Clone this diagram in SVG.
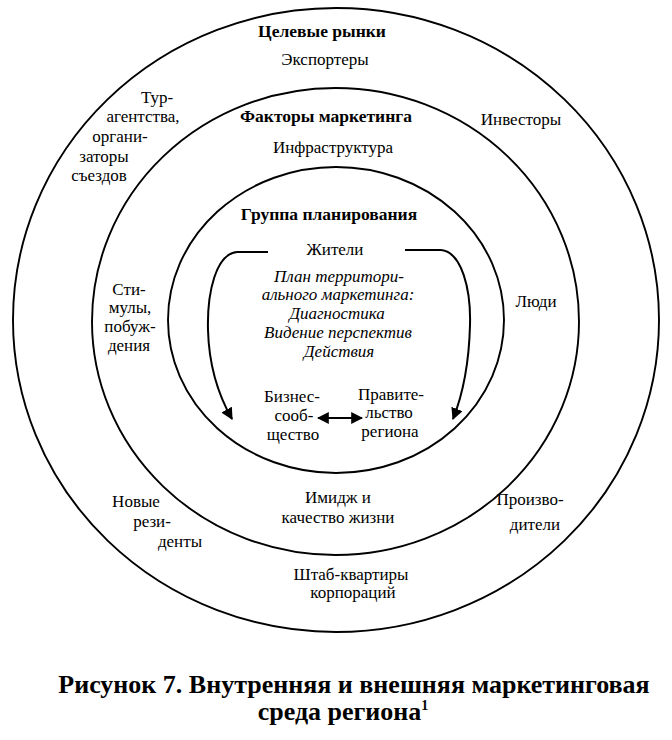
<svg xmlns="http://www.w3.org/2000/svg" width="672" height="740" viewBox="0 0 672 740">
<style>
text{font-family:'Liberation Serif','DejaVu Serif',serif;fill:#000;text-anchor:middle}
.t{font-size:17px}
.b{font-size:17.5px;font-weight:bold}
.i{font-size:17px;font-style:italic}
.cap{font-size:26px;font-weight:bold}
.ring{fill:none;stroke:#000;stroke-width:1.9}
.arr{fill:none;stroke:#000;stroke-width:2}
</style>
<defs>
<marker id="ah" viewBox="0 0 10 10" refX="9" refY="5" markerWidth="6" markerHeight="6" orient="auto-start-reverse" markerUnits="strokeWidth">
<path d="M0,0 L10,5 L0,10 Z" fill="#000"/>
</marker>
</defs>
<rect width="672" height="740" fill="#fff"/>
<g id="outer-ring">
<ellipse class="ring" cx="336" cy="320" rx="323" ry="312"/>
<text class="b" x="322" y="37">Целевые рынки</text>
<text class="t" x="325" y="65">Экспортеры</text>
<text class="t" x="157" y="103">Тур-</text>
<text class="t" x="143" y="122">агентства,</text>
<text class="t" x="120" y="142">органи-</text>
<text class="t" x="104" y="162">заторы</text>
<text class="t" x="99" y="181">съездов</text>
<text class="t" x="521" y="125">Инвесторы</text>
<text class="t" x="536" y="307">Люди</text>
<text class="t" x="136" y="507">Новые</text>
<text class="t" x="152" y="527">рези-</text>
<text class="t" x="180" y="547">денты</text>
<text class="t" x="530" y="505">Произво-</text>
<text class="t" x="535" y="530">дители</text>
<text class="t" x="351" y="580">Штаб-квартиры</text>
<text class="t" x="353" y="598">корпораций</text>
</g>
<g id="middle-ring">
<ellipse class="ring" cx="335.5" cy="321.5" rx="243.5" ry="233.5"/>
<text class="b" x="326" y="122">Факторы маркетинга</text>
<text class="t" x="333" y="153">Инфраструктура</text>
<text class="t" x="129" y="295">Сти-</text>
<text class="t" x="130" y="313">мулы,</text>
<text class="t" x="130" y="332">побуж-</text>
<text class="t" x="129" y="351">дения</text>
<text class="t" x="338" y="503">Имидж и</text>
<text class="t" x="338" y="523">качество жизни</text>
</g>
<g id="inner-ring">
<ellipse class="ring" cx="336" cy="320" rx="168" ry="153"/>
<text class="b" x="329" y="220">Группа планирования</text>
</g>
<g id="residents">
<text class="t" x="335" y="255">Жители</text>
</g>
<g id="plan">
<text class="i" x="339" y="282">План территори-</text>
<text class="i" x="338" y="300">ального маркетинга:</text>
<text class="i" x="337" y="319">Диагностика</text>
<text class="i" x="338" y="338">Видение перспектив</text>
<text class="i" x="339" y="357">Действия</text>
</g>
<g id="business">
<text class="t" x="292" y="402">Бизнес-</text>
<text class="t" x="294" y="421">сооб-</text>
<text class="t" x="293" y="440">щество</text>
</g>
<g id="government">
<text class="t" x="391" y="400">Правите-</text>
<text class="t" x="389" y="418">льство</text>
<text class="t" x="390" y="437">региона</text>
</g>
<g id="connectors">
<path class="arr" marker-end="url(#ah)" d="M268,252 L237,252 C216,254 207,292 208,330 C209,368 220,398 232,419"/>
<path class="arr" marker-end="url(#ah)" d="M405,250 L441,250 C462,252 471,290 470,325 C469,364 463,394 453,419"/>
<path class="arr" marker-start="url(#ah)" marker-end="url(#ah)" d="M318,418 L362,418"/>
</g>
<g id="caption">
<text class="cap" x="354" y="693">Рисунок 7. Внутренняя и внешняя маркетинговая</text>
<text class="cap" x="343" y="720">среда региона<tspan font-size="14" dy="-10">1</tspan></text>
</g>
</svg>
